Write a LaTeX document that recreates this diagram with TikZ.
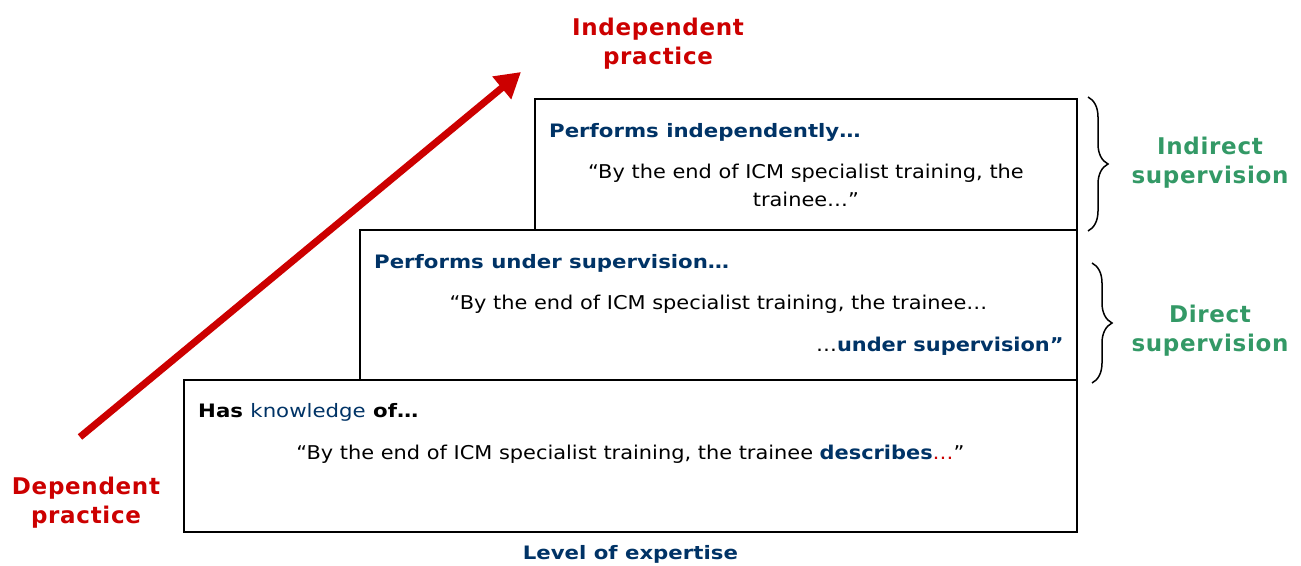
\documentclass[tikz,border=0pt]{standalone}
\usepackage{fontspec}
\setmainfont{DejaVu Sans}
\newfontfamily\wideface[FakeStretch=1.15]{DejaVu Sans}
\newfontfamily\quoteface[FakeStretch=1.1]{DejaVu Sans}
\newfontfamily\tagface[LetterSpace=3]{DejaVu Sans}
\usetikzlibrary{arrows.meta, positioning, decorations.pathreplacing}

\definecolor{navy}{RGB}{0,51,102}
\definecolor{darkred}{RGB}{204,0,0}
\definecolor{leafgreen}{RGB}{51,153,102}

\begin{document}
\begin{tikzpicture}[x=1pt, y=-1pt,
  level/.style={rectangle, draw, line width=1.8pt, anchor=north west, inner sep=0pt},
  head/.style={font=\wideface\fontsize{18.5}{22}\selectfont\bfseries, text=navy, inner sep=0pt},
  quote/.style={font=\quoteface\fontsize{19}{28}\selectfont, align=center, inner sep=0pt},
  tag/.style={font=\tagface\fontsize{23}{29}\selectfont\bfseries, align=center, inner sep=0pt},
  bracket/.style={decorate, decoration={brace, amplitude=20pt}, line width=1.5pt},
  node distance=0.3cm
]
  \useasboundingbox (0,0) rectangle (1301,565);

  % stair of levels
  \node[level, minimum width=893pt, minimum height=152pt] (know) at (183,379) {};
  \node[level, minimum width=717pt, minimum height=150pt] (sup) at (359,229) {};
  \node[level, minimum width=542pt, minimum height=131pt] (indep) at (534,98) {};

  % texts in the levels
  \node[head, below right=25pt and 15pt of indep.north west] (h3) {Performs independently…};
  \node[quote, below=66pt of indep.north] (q3)
    {“By the end of ICM specialist training, the\\trainee…”};

  \node[head, below right=25pt and 15pt of sup.north west] (h2) {Performs under supervision…};
  \node[quote, below=66pt of sup.north] (q2)
    {“By the end of ICM specialist training, the trainee…};
  \node[quote, below left=108pt and 14pt of sup.north east] (q2b)
    {…\textbf{\color{navy}under supervision”}};

  \node[head, text=black, below right=24pt and 15pt of know.north west] (h1)
    {Has {\mdseries\color{navy}knowledge} of…};
  \node[quote, below=66pt of know.north] (q1)
    {“By the end of ICM specialist training, the trainee
     \textbf{\color{navy}describes}{\color{darkred}…}”};

  \node[head, below=12pt of know.south] (axis) {Level of expertise};

  % progression arrow
  \coordinate (low) at (80,437);
  \coordinate (high) at (521,72);
  \draw[-{Triangle[length=25pt,width=28pt]}, line width=7pt, darkred] (low) -- (high);
  \node[tag, text=darkred] (deplab) at (86,503) {Dependent\\practice};
  \node[tag, text=darkred] (indeplab) at (658,44) {Independent\\practice};

  % supervision braces
  \coordinate (b1top) at (1088,97);
  \coordinate (b1bot) at (1088,231);
  \coordinate (b2top) at (1092,263);
  \coordinate (b2bot) at (1092,383);
  \draw[bracket] (b1top) -- (b1bot);
  \draw[bracket] (b2top) -- (b2bot);
  \node[tag, text=leafgreen] (indirect) at (1210,163) {Indirect\\supervision};
  \node[tag, text=leafgreen] (direct) at (1210,331) {Direct\\supervision};
\end{tikzpicture}
\end{document}
